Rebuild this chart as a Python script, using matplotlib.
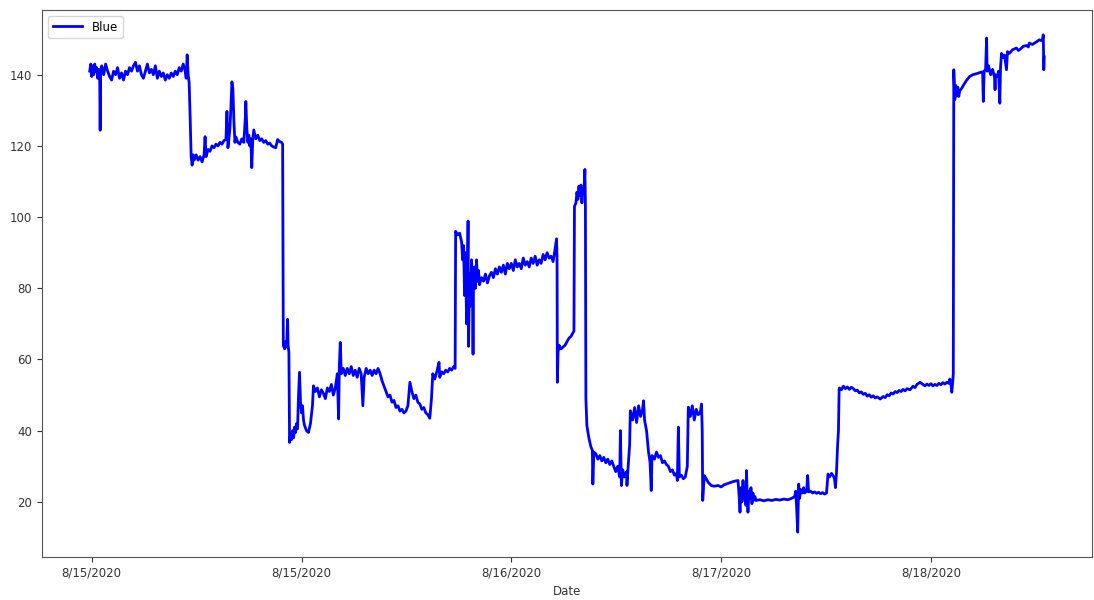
import numpy as np
import matplotlib
matplotlib.use("Agg")
import matplotlib.pyplot as plt

# readings, traced in pieces (sample number, value)
x_a = [0, 1, 2, 3, 4, 5, 6, 7, 8, 9, 10, 10.5, 11, 12,
       14, 16, 18, 20, 22, 24, 26, 28, 30, 32, 34, 36, 38, 40, 42, 44, 46, 48, 50, 52,
       54, 56, 58, 60, 62, 64, 66, 68, 70, 72, 74, 76, 78, 80, 82, 84, 86, 88, 90, 92,
       94, 96, 97, 98, 99, 100, 101, 102, 103, 104]
y_a = [141, 143, 139.5, 142.5, 140, 143, 141, 142, 139, 141.5, 140, 124.4, 141, 142.5,
       140, 143, 141, 139.5, 138.5, 141, 140, 142, 139, 140.5, 138.5, 141, 140, 142, 141, 142.5, 143.5, 141, 142.5, 140,
       139, 141, 143, 140.5, 141.5, 140, 142.5, 139, 141, 139.5, 140.5, 138.5, 140, 139, 140.5, 139.5, 141, 140, 142, 141,
       143, 141, 139, 145.6, 140, 137.7, 128, 117, 114.6, 117.5]

x_b = [105, 107, 109, 111, 113, 115, 116, 117, 119, 121, 123, 125, 127, 129, 131, 133, 135, 137,
       138, 139, 140, 141, 142, 143, 144, 145, 146, 147, 149, 151, 153, 155, 156.5,
       157, 158, 159, 160, 161, 162, 163, 164, 165,
       167, 169, 171, 173, 175, 177, 179, 181, 183, 185, 187, 189, 191, 193]
y_b = [116, 117.5, 116, 117, 115.5, 117.5, 122.6, 117, 119, 118.5, 120, 119.5, 120.5, 120, 121, 120.5, 121.5, 121.8,
       129.7, 119.5, 122, 125, 131, 138, 136, 127, 121, 122.5, 121, 120.5, 122, 121, 128,
       132.5, 125, 121, 123, 120, 122, 113.9, 122, 124.5,
       122, 123, 121.5, 122, 121, 121.5, 120.5, 120.8, 120, 119.7, 119.5, 121.8, 121.2, 121]

x_c = [194, 194.7, 196, 197, 198, 199, 199.5, 200.3, 201, 202,
       203, 204, 205, 206, 207, 208, 209, 210, 211, 212,
       213, 214, 215, 216, 218, 220, 222, 224, 225, 227,
       229, 231, 233, 235, 237, 239, 241, 243, 245, 247,
       249, 250.3, 251, 252, 253, 255, 257, 259, 261, 263,
       265, 267, 269, 271, 273, 274.7, 276, 278, 280, 282,
       284, 286, 288, 290, 292, 294, 296, 298, 300, 302,
       304, 306, 308, 310, 312, 314, 316, 318, 320, 322,
       324, 326, 328, 330, 332, 334, 336, 338, 340, 342,
       343.7, 345, 347, 349, 351.3, 352, 354, 356, 358, 360,
       362, 364, 366, 367.5]
y_c = [120.5, 64, 63, 65, 63.5, 71.3, 64, 62, 36.7, 39,
       37.5, 40, 38, 41, 39.5, 42, 40.5, 50, 56.4, 48,
       45, 47, 43, 41.5, 40, 39.5, 42, 47, 52.6, 51,
       52, 49.5, 51.5, 50.5, 49, 52, 51, 53, 50, 52,
       56, 43.3, 58, 64.8, 56, 57.5, 55.5, 57.5, 56, 58,
       55.5, 57, 55, 57.5, 56, 47, 55, 57.5, 56, 57,
       55.5, 57, 56, 57.5, 56, 54, 52.5, 51, 49.5, 50,
       48, 48.5, 46.5, 47, 45.5, 46, 45, 45.5, 47, 53.6,
       51, 49, 50, 48, 47.5, 46, 46.5, 45, 44.5, 43.5,
       49, 56, 54.5, 56.5, 59.2, 55, 56.5, 56, 57, 56.5,
       57.5, 57, 58, 57.5]

x_d = [368, 370, 372, 374, 375, 376, 377, 378, 379, 380, 380.5, 381, 382, 383, 384, 385, 385.5,
       386, 387, 388, 389, 390, 391, 392,
       394, 396, 398, 400, 402, 404, 406, 408, 410, 412,
       414, 416, 418, 420, 422, 424, 426, 428, 430, 432,
       434, 436, 438, 440, 442, 444, 446, 448, 450, 452,
       454, 456, 458, 460, 462, 464, 466, 468, 469.5, 470]
y_d = [96, 95, 95.5, 93, 88, 92, 78, 90, 70, 86, 98.9, 63.7, 84, 75, 88, 80, 61.5,
       83, 86, 80, 88, 82, 85, 81,
       83, 82, 84, 81.5, 83.5, 84.5, 83, 85.5, 84, 86,
       84.5, 86.5, 84, 87, 85.5, 87, 85, 88, 86, 87,
       85.5, 88.5, 86.5, 87.5, 86, 88.5, 87, 89, 86.5, 88,
       87, 89.5, 88, 90, 88.5, 89, 87.5, 91, 93.9, 88]

x_e = [470.3, 471, 472, 474, 476, 478, 480, 482, 484, 486,
       487, 487.5, 489, 490, 491, 492, 493, 494, 495, 496,
       497, 498, 498.5]
y_e = [53.6, 62, 64, 63, 63.5, 64, 65, 66, 66.5, 67.5,
       68, 103, 104, 107, 105, 108.7, 106, 109, 104, 108,
       107, 113.4, 104]

x_f = [499, 500, 502, 504, 505.5, 506, 507, 509, 511, 513,
       515, 517, 519, 521, 523, 525, 527, 529, 531, 533,
       533.7, 534.7, 536, 538, 540, 540.3, 541.5, 543, 543.7, 546,
       548, 550, 552, 554, 556, 557, 558, 560, 562, 563.5,
       564.7, 565.5, 568, 570, 572, 574, 576, 578, 580, 582,
       584, 586, 588, 590, 591, 592, 593, 595, 597, 599,
       601, 602, 604, 606, 608, 610, 612, 614, 615.3, 616]
y_f = [49, 41.4, 38, 35.5, 34.5, 25, 34, 33.5, 32, 33,
       31.5, 32.5, 31, 32, 30.5, 31.5, 30, 28.5, 30, 27,
       40, 24.6, 29, 27, 28.5, 24.6, 30, 36, 45.6, 43,
       46.5, 42.3, 47, 44, 46, 48.4, 43, 40, 34, 31.2,
       23.2, 33, 32, 34, 32.5, 33, 31, 31.5, 30.5, 30,
       28.5, 29, 27.5, 28, 26, 41, 27, 27.5, 26.5, 27,
       30, 46.6, 44, 47, 43, 46, 44.5, 45, 47.5, 40]

x_g = [616.5, 618, 620, 622, 625, 628, 632, 635, 638, 641,
       644, 647, 650, 652, 653, 654, 655, 656, 657, 658,
       659, 660, 660.5, 661, 662, 663, 664, 665, 666, 667,
       668, 669, 670, 674, 678, 682, 686, 690, 694, 698,
       702, 706, 709, 710, 711, 712, 713, 714, 715, 717,
       718, 719, 721, 722, 723, 725, 727, 729, 731, 733,
       735, 737, 739, 741, 742.5, 744, 746, 748, 749, 750,
       751, 752, 753]
y_g = [20.4, 27.4, 26.5, 25.5, 24.6, 24.4, 24.6, 24.2, 24.8, 25.1,
       25.4, 25.7, 25.9, 26, 22, 17.1, 24, 20, 26, 21,
       23, 19, 28.8, 24, 17.1, 23, 21, 24, 19.5, 22.5,
       20.5, 21.5, 20.4, 20.6, 20.3, 20.6, 20.4, 20.7, 20.5, 20.8,
       20.6, 21, 21.5, 23, 18, 11.5, 25, 21, 23.5, 22.5,
       24, 22.5, 23, 27.4, 22.8, 23, 22.5, 22.8, 22.4, 22.7,
       22.3, 22.6, 22.2, 22.5, 27.8, 27, 28, 27.2, 26.5, 24,
       28, 35, 40]

x_h = [753.7, 754, 756, 758, 760, 762, 764, 766, 768, 770,
       772, 774, 776, 778, 780, 782, 784, 786, 788, 790,
       792, 795, 798, 800, 802, 804, 806, 808, 810, 812,
       814, 816, 818, 820, 822, 825, 828, 830, 832, 835,
       838, 840, 842, 844, 846, 848, 850, 852, 854, 856,
       858, 860, 862, 864, 865, 866, 867, 868]
y_h = [51.7, 52, 51.5, 52.5, 51.8, 52.3, 51.6, 52.2, 51.8, 51.2,
       51.4, 50.6, 50.9, 50.2, 50.5, 49.7, 50.1, 49.4, 49.8, 49.2,
       49.5, 48.9, 49.6, 49.3, 50.1, 49.8, 50.6, 50.3, 51, 50.7,
       51.3, 51, 51.6, 51.2, 51.8, 51.5, 52.5, 52.1, 53, 53.6,
       53, 52.6, 53.1, 52.7, 53.2, 52.6, 53, 52.7, 53.3, 52.9,
       53.5, 53.1, 53.6, 53.3, 54.5, 53.5, 50.8, 54]

x_i = [868.5, 869, 870, 871, 872, 873, 874, 875, 877, 879,
       882, 885, 888, 892, 895, 898, 898.7, 899.5, 901, 902,
       902.5, 904, 906, 908, 910, 910.5, 911, 913, 914, 915.3,
       916, 917, 919, 920, 922, 923, 925, 928, 932, 934,
       936, 939, 942, 944, 945, 948, 952, 955, 958, 959,
       959.5, 960]
y_i = [56, 141.4, 133, 137, 134, 136.5, 133.9, 135.5, 136.2, 137.2,
       138.5, 139.5, 140, 140.3, 140.6, 140.8, 132.5, 141, 141.5, 150.3,
       141, 142.5, 140, 141.5, 139.2, 135.8, 140, 139.5, 141, 132,
       142, 146, 144.8, 145.5, 141.4, 146.5, 146, 147, 147.5, 146.8,
       147.2, 148, 148.2, 147.8, 148.9, 148.5, 149.2, 149.8, 149.5, 151.2,
       141.4, 145]

tick_samples = [2, 213, 424, 635, 846]
tick_labels = ["8/15/2020", "8/15/2020", "8/16/2020", "8/17/2020", "8/18/2020"]

xs = [x_a, x_b, x_c, x_d, x_e, x_f, x_g, x_h, x_i]
ys = [y_a, y_b, y_c, y_d, y_e, y_f, y_g, y_h, y_i]
for a, b in zip(xs, ys):
    assert len(a) == len(b), (len(a), len(b))
sample = np.concatenate(xs)
blue = np.concatenate(ys)

fig = plt.figure(figsize=(10.94, 6), dpi=100)
ax = fig.add_axes([42 / 1094, 43 / 600, 1050 / 1094, 547 / 600])
ax.plot(sample, blue, color="blue", lw=2, label="Blue")

ax.set_xticks(tick_samples)
ax.set_xticklabels(tick_labels)
ax.set_yticks([20, 40, 60, 80, 100, 120, 140])
ax.tick_params(labelsize=8.5, colors="#333333")
ax.set_xlabel("Date", fontsize=8.5, color="#333333")
for s in ax.spines.values():
    s.set_color("#555555")

ax.legend(loc="upper left", fontsize=8.5, handlelength=2.5)

fig.savefig("out.png", dpi=100)
